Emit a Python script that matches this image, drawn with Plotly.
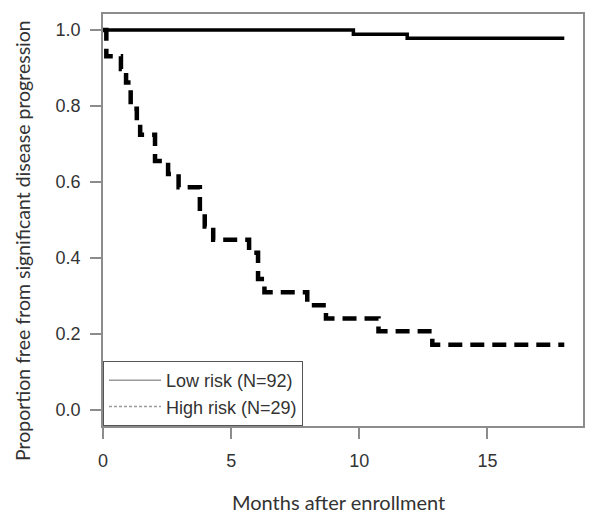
import plotly.graph_objects as go

# Kaplan-Meier step data (months, survival proportion)
low_t = [0, 9.77, 11.87, 18.0]
low_s = [1.0, 0.989, 0.978, 0.978]

high_t = [0, 0.13, 0.70, 0.90, 1.08, 1.32, 1.45, 2.03, 2.54, 2.95, 3.78, 3.97,
          4.30, 5.70, 6.05, 6.30, 7.97, 8.70, 10.75, 12.85, 18.0]
high_s = [1.0, 0.931, 0.897, 0.862, 0.793, 0.759, 0.724, 0.655, 0.621, 0.586,
          0.517, 0.483, 0.448, 0.414, 0.345, 0.310, 0.276, 0.241, 0.207, 0.172, 0.172]

x_ticks = [0, 5, 10, 15]
y_ticks = [0.0, 0.2, 0.4, 0.6, 0.8, 1.0]
y_ticklabels = ["0.0", "0.2", "0.4", "0.6", "0.8", "1.0"]

legend_names = ["Low risk (N=92)", "High risk (N=29)"]

fig = go.Figure()
fig.add_trace(go.Scatter(x=low_t, y=low_s, mode="lines", line_shape="hv",
                         line=dict(color="black", width=3.5), showlegend=False,
                         name=legend_names[0]))
fig.add_trace(go.Scatter(x=high_t, y=high_s, mode="lines", line_shape="hv",
                         line=dict(color="black", width=4.5, dash="14px,8px"),
                         showlegend=False, name=legend_names[1]))
# legend entries (thin grey samples as in the original)
fig.add_trace(go.Scatter(x=[None], y=[None], mode="lines", name=legend_names[0],
                         line=dict(color="#9a9a9a", width=1.5)))
fig.add_trace(go.Scatter(x=[None], y=[None], mode="lines", name=legend_names[1],
                         line=dict(color="#9a9a9a", width=1.5, dash="3px,2px")))

axis_common = dict(showline=True, linecolor="#8c8c8c", linewidth=1.5, mirror=True,
                   ticks="outside", ticklen=11, tickwidth=1.5, tickcolor="#8c8c8c",
                   showgrid=False, zeroline=False,
                   tickfont=dict(family="Liberation Sans, Arial", size=18, color="#333333"))

fig.update_layout(
    width=600, height=529,
    margin=dict(l=103, r=17, t=14, b=103),
    paper_bgcolor="white", plot_bgcolor="white",
    xaxis=dict(range=[0, 18.73], tickvals=x_ticks, ticklabelstandoff=7, **axis_common),
    yaxis=dict(range=[-0.042, 1.042], tickvals=y_ticks, ticktext=y_ticklabels,
               ticklabelstandoff=6, **axis_common),
    legend=dict(x=0, y=0, xanchor="left", yanchor="bottom",
                bgcolor="white", bordercolor="#555555", borderwidth=1,
                font=dict(family="Liberation Sans, Arial", size=18, color="#333333"),
                itemwidth=52, tracegroupgap=0),
    annotations=[
        dict(text="Months after enrollment", xref="paper", yref="paper",
             x=0.49, y=-0.185, xanchor="center", yanchor="middle", showarrow=False,
             font=dict(family="Lato", size=20, color="#333333")),
        dict(text="Proportion free from significant disease progression",
             xref="paper", yref="paper", x=-0.169, y=0.451, textangle=-90,
             xanchor="center", yanchor="middle", showarrow=False,
             font=dict(family="Lato", size=19.5, color="#333333")),
    ],
)

fig.write_html("out.html", config={"displayModeBar": False},
               post_script="document.body.style.margin='0px';")
